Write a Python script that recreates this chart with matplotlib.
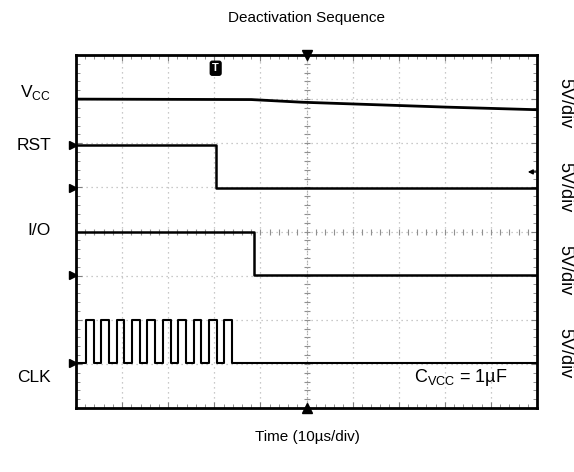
import numpy as np
import matplotlib
matplotlib.use("Agg")
import matplotlib.pyplot as plt

plt.rcParams['font.family'] = ['Liberation Sans', 'DejaVu Sans']
plt.rcParams['mathtext.fontset'] = 'custom'
plt.rcParams['mathtext.rm'] = 'Liberation Sans'

# ---- data (time in us, level in divisions) ----
vcc_t = [0, 38, 49, 80, 100]
vcc_v = [7.0, 6.99, 6.93, 6.82, 6.76]

rst_fall_t = 30.3
rst_high, rst_low = 5.95, 4.99

io_fall_t = 38.7
io_high, io_low = 4.0, 3.02

clk_rise_t = [2.2, 5.5, 8.8, 12.2, 15.5, 18.8, 22.2, 25.5, 28.8, 32.2]
clk_fall_t = [3.8, 7.1, 10.5, 13.8, 17.1, 20.5, 23.8, 27.1, 30.5, 33.8]
clk_high, clk_low = 1.99, 1.01

ground_markers = [5.95, 4.99, 3.02, 1.01]
trigger_t = 30.3
trigger_level = 5.35
channel_labels = ['V$_{\\mathregular{CC}}$', 'RST', 'I/O', 'CLK']
scale_labels = ['5V/div', '5V/div', '5V/div', '5V/div']

W, H = 574, 472
fig = plt.figure(figsize=(W / 100, H / 100), dpi=100)
ax = fig.add_axes([76 / W, 1 - 408 / H, (537 - 76) / W, (408 - 55) / H])
ax.set_xlim(0, 100)
ax.set_ylim(0, 8)

# grid
for x in np.arange(10, 100, 10):
    ax.axvline(x, color='#b8b8b8', lw=0.9, ls=(0, (1, 3)), zorder=1)
for y in np.arange(1, 8, 1):
    ax.axhline(y, color='#b8b8b8', lw=0.9, ls=(0, (1, 3)), zorder=1)
# center crosshair tick marks
minor_x = np.arange(0, 100.01, 2)
minor_y = np.arange(0, 8.01, 0.2)
ax.plot(minor_x, np.full_like(minor_x, 4.0), ls='none', marker='|', ms=4,
        mew=0.8, color='#909090', zorder=1)
ax.plot(np.full_like(minor_y, 50.0), minor_y, ls='none', marker='_', ms=4,
        mew=0.8, color='#909090', zorder=1)
ax.axvline(50, color='#a0a0a0', lw=0.8, ls=(0, (1, 2)), zorder=1)

# ticks on the border
ax.set_xticks(np.arange(0, 101, 10))
ax.set_yticks(np.arange(0, 9, 1))
ax.set_xticks(minor_x, minor=True)
ax.set_yticks(minor_y, minor=True)
ax.tick_params(which='both', direction='in', top=True, right=True,
               labelbottom=False, labelleft=False, color='#808080')
ax.tick_params(which='major', length=4, width=0.8)
ax.tick_params(which='minor', length=3, width=0.6)
for s in ax.spines.values():
    s.set_linewidth(2.0)

# traces
ax.plot(vcc_t, vcc_v, color='black', lw=2.0, zorder=3)
ax.plot([0, rst_fall_t, rst_fall_t, 100], [rst_high, rst_high, rst_low, rst_low],
        color='black', lw=1.8, zorder=3)
ax.plot([0, io_fall_t, io_fall_t, 100], [io_high, io_high, io_low, io_low],
        color='black', lw=1.8, zorder=3)
ct, cv = [0], [clk_low]
for r, f in zip(clk_rise_t, clk_fall_t):
    ct += [r, r, f, f]
    cv += [clk_low, clk_high, clk_high, clk_low]
ct.append(100)
cv.append(clk_low)
ax.plot(ct, cv, color='black', lw=1.5, zorder=3)

# markers
ax.plot(np.full(len(ground_markers), -0.6), ground_markers, ls='none', marker='>',
        ms=6, color='black', clip_on=False, zorder=4)
ax.plot([50], [8], marker='v', ms=7, color='black', clip_on=False, zorder=4)
ax.plot([50], [0], marker='^', ms=7, color='black', clip_on=False, zorder=4)
ax.text(trigger_t, 7.7, 'T', ha='center', va='center', fontsize=8,
        color='white', fontweight='bold',
        bbox=dict(boxstyle='round,pad=0.18', fc='black', ec='black'), zorder=5)
ax.annotate('', xy=(98.0, trigger_level), xytext=(99.8, trigger_level),
            arrowprops=dict(arrowstyle='-|>', color='black', lw=1.0,
                            mutation_scale=7, shrinkA=0, shrinkB=0), zorder=5)

# text
fig.text(307 / W, 1 - 18 / H, 'Deactivation Sequence', ha='center', va='center',
         fontsize=11)
fig.text(307 / W, 1 - 437 / H, 'Time (10\u00b5s/div)', ha='center', va='center',
         fontsize=11)
for lab, yp in zip(channel_labels, [92, 145, 231, 377]):
    fig.text(51 / W, 1 - yp / H, lab, ha='right', va='center', fontsize=12.5)
for lab, yp in zip(scale_labels, [103, 187, 270, 353]):
    fig.text(565 / W, 1 - yp / H, lab, ha='center', va='center', fontsize=13,
             rotation=270)
ax.text(83.5, 0.68, 'C$_{\\mathregular{VCC}}$ = 1\u00b5F',
        ha='center', va='center', fontsize=13, zorder=5)

fig.savefig('out.png', dpi=100)
